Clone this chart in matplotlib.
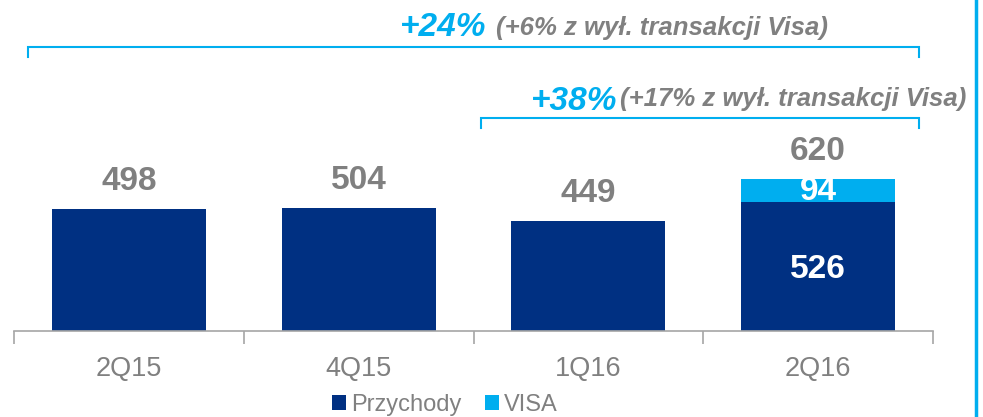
import matplotlib
matplotlib.use("Agg")
import matplotlib.pyplot as plt

categories = ["2Q15", "4Q15", "1Q16", "2Q16"]
przychody = [498, 504, 449, 526]
visa = [0, 0, 0, 94]
totals = [498, 504, 449, 620]

NAVY = "#003082"
CYAN = "#00AEEF"
GRAY = "#808080"

plt.rcParams['font.family'] = ['Liberation Sans', 'DejaVu Sans']

fig = plt.figure(figsize=(9.83, 4.17), dpi=100)
ax = fig.add_axes([14/983, 86/417, (933-14)/983, 331/417])

x = list(range(len(categories)))
ax.bar(x, przychody, width=0.67, color=NAVY, label="Przychody")
ax.bar(x, visa, width=0.67, bottom=przychody, color=CYAN, label="VISA")

ax.set_xlim(-0.5, 3.5)
ax.set_ylim(0, 331/0.245)

for s in ["top", "right", "left"]:
    ax.spines[s].set_visible(False)
ax.spines["bottom"].set_color("#a6a6a6")
ax.spines["bottom"].set_linewidth(1.2)
ax.set_yticks([])
ax.set_xticks([-0.5, 0.5, 1.5, 2.5, 3.5], minor=True)
ax.set_xticks(x)
ax.set_xticklabels(categories, fontsize=19.5, color=GRAY)
ax.tick_params(axis="x", which="major", length=0, pad=18)
ax.tick_params(axis="x", which="minor", length=9, color="#a6a6a6", width=1.2)

# value labels
for i in range(len(categories)):
    ax.text(i, totals[i] + 112, str(totals[i]), ha="center", va="center",
            fontsize=24, fontweight="bold", color=GRAY)
ax.text(3, przychody[3] + visa[3] / 2 - 5, str(visa[3]), ha="center", va="center",
        fontsize=24, fontweight="bold", color="white")
ax.text(3, przychody[3] / 2 - 10, str(przychody[3]), ha="center", va="center",
        fontsize=24, fontweight="bold", color="white")

def px2y(py):
    return (331 - py) / 0.245

def px2x(px):
    return (px - 129) / 230

# brackets
for (x0, x1, yb) in [(28, 920, 47), (482, 920, 118)]:
    ax.plot([px2x(x0), px2x(x0), px2x(x1), px2x(x1)],
            [px2y(yb + 10), px2y(yb), px2y(yb), px2y(yb + 10)],
            color=CYAN, lw=1.5, clip_on=False, solid_joinstyle="miter")

ax.text(px2x(400), px2y(27), "+24%", ha="left", va="center", fontsize=24,
        fontweight="bold", style="italic", color=CYAN)
ax.text(px2x(497), px2y(28), "(+6% z wył. transakcji Visa)", ha="left", va="center",
        fontsize=18.5, fontweight="bold", style="italic", color=GRAY)
ax.text(px2x(532), px2y(101), "+38%", ha="left", va="center", fontsize=24,
        fontweight="bold", style="italic", color=CYAN)
ax.text(px2x(621), px2y(99), "(+17% z wył. transakcji Visa)", ha="left", va="center",
        fontsize=18.5, fontweight="bold", style="italic", color=GRAY)

# right cyan vertical line
fig.add_artist(plt.Line2D([976/983, 976/983], [0, 1], color=CYAN, lw=2.5,
                          transform=fig.transFigure))

leg = fig.legend(loc="center", bbox_to_anchor=(445/983, 1 - 405/417), ncol=2,
                 frameon=False, fontsize=17, handlelength=0.6, handleheight=0.6,
                 handletextpad=0.2, columnspacing=1.0, borderpad=0)
for t in leg.get_texts():
    t.set_color(GRAY)

fig.savefig("out.png", dpi=100)
